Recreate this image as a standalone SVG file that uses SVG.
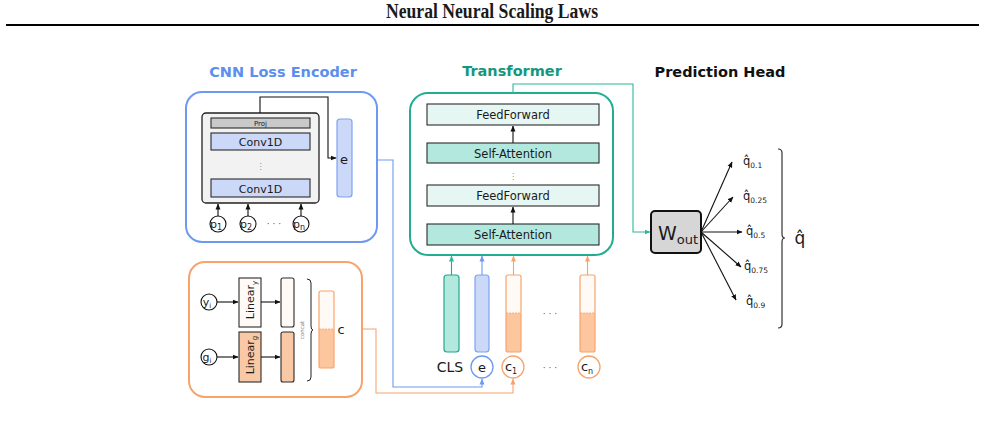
<svg xmlns="http://www.w3.org/2000/svg" width="985" height="426" viewBox="0 0 985 426">
<style>
text{font-family:"DejaVu Sans","Noto Sans",sans-serif;fill:#1a1a1a}
.title{font-weight:bold;font-size:14.5px;text-anchor:middle}
.lbl{font-size:11.5px;text-anchor:middle}
.box{stroke:#2b2b2b;stroke-width:1.1}
.ln{fill:none;stroke:#111;stroke-width:1.1}
.blue{stroke:#6d9af0}
.orange{stroke:#f7a46c}
.teal{stroke:#2bb89d}
.sub{font-size:8px}
</style>
<defs>
<marker id="ab" markerWidth="6" markerHeight="6" refX="5.5" refY="3" orient="auto" markerUnits="userSpaceOnUse"><path d="M0,0.5 L6,3 L0,5.5 z" fill="#111"/></marker>
<marker id="abl" markerWidth="6" markerHeight="6" refX="5.5" refY="3" orient="auto" markerUnits="userSpaceOnUse"><path d="M0,0.5 L6,3 L0,5.5 z" fill="#6d9af0"/></marker>
<marker id="aor" markerWidth="6" markerHeight="6" refX="5.5" refY="3" orient="auto" markerUnits="userSpaceOnUse"><path d="M0,0.5 L6,3 L0,5.5 z" fill="#f7a46c"/></marker>
<marker id="ate" markerWidth="6" markerHeight="6" refX="5.5" refY="3" orient="auto" markerUnits="userSpaceOnUse"><path d="M0,0.5 L6,3 L0,5.5 z" fill="#2bb89d"/></marker>
</defs>
<rect width="985" height="426" fill="#fff"/>

<g id="header">
<text x="492" y="18" font-family="Liberation Serif,serif" font-weight="bold" font-size="20" text-anchor="middle" textLength="212" lengthAdjust="spacingAndGlyphs" style="font-family:'Liberation Serif',serif">Neural Neural Scaling Laws</text>
<line x1="6" y1="25" x2="979" y2="25" stroke="#000" stroke-width="2"/>
</g>

<g id="cnn-encoder">
<text class="title" x="283" y="77" style="fill:#5c8fee">CNN Loss Encoder</text>
<rect x="186" y="92" width="191" height="150" rx="16" fill="#fff" stroke="#6d9af0" stroke-width="2"/>
<rect x="202" y="113" width="117" height="90" rx="4" fill="#f2f2f2" stroke="#222" stroke-width="1.3"/>
<rect class="box" x="211" y="118" width="99" height="10" fill="#c9c9c9" stroke-width="0.8"/>
<text x="260.5" y="126" font-size="7" text-anchor="middle">Proj</text>
<rect class="box" x="211" y="133" width="99" height="17" fill="#cbd8f7"/>
<text x="260.5" y="146" font-size="11" text-anchor="middle">Conv1D</text>
<text x="260.5" y="169" font-size="8" text-anchor="middle" style="fill:#888">⋮</text>
<rect class="box" x="211" y="179" width="99" height="18" fill="#cbd8f7"/>
<text x="260.5" y="192.5" font-size="11" text-anchor="middle">Conv1D</text>
<rect x="337" y="119" width="15" height="78" rx="3" fill="#cbd8f7" stroke="#7da2f2" stroke-width="1.2"/>
<text x="344" y="164" font-size="13" text-anchor="middle">e</text>
<path class="ln" d="M260,113 V97 H328 V158 H336" marker-end="url(#ab)"/>
<circle cx="218" cy="224" r="8" fill="#fff" stroke="#111" stroke-width="1.1"/>
<text x="216" y="228" font-size="11" text-anchor="middle">p<tspan class="sub" dy="2" font-size="7">1</tspan></text>
<circle cx="248" cy="224" r="8" fill="#fff" stroke="#111" stroke-width="1.1"/>
<text x="246" y="228" font-size="11" text-anchor="middle">p<tspan class="sub" dy="2" font-size="7">2</tspan></text>
<circle cx="301" cy="224" r="8" fill="#fff" stroke="#111" stroke-width="1.1"/>
<text x="299" y="228" font-size="11" text-anchor="middle">p<tspan class="sub" dy="2" font-size="7">n</tspan></text>
<text x="274" y="227" font-size="9" text-anchor="middle" style="fill:#555">· · ·</text>
<path class="ln" d="M218,216 V204" marker-end="url(#ab)"/>
<path class="ln" d="M248,216 V204" marker-end="url(#ab)"/>
<path class="ln" d="M301,216 V204" marker-end="url(#ab)"/>
</g>

<g id="context-encoder">
<rect x="189" y="262" width="173" height="135" rx="16" fill="#fff" stroke="#f7a46c" stroke-width="2"/>
<circle cx="209" cy="302" r="8" fill="#fff" stroke="#111" stroke-width="1.1"/>
<text x="207" y="306" font-size="11" text-anchor="middle">y<tspan dy="2" font-size="7">i</tspan></text>
<circle cx="209" cy="357" r="8" fill="#fff" stroke="#111" stroke-width="1.1"/>
<text x="207" y="361" font-size="11" text-anchor="middle">g<tspan dy="2" font-size="7">i</tspan></text>
<path class="ln" d="M217,302 H238" marker-end="url(#ab)"/>
<path class="ln" d="M217,357 H238" marker-end="url(#ab)"/>
<rect class="box" x="239" y="278" width="22" height="49" fill="#fffaf6"/>
<text x="252" y="306" font-size="11" text-anchor="middle" transform="rotate(-90 250 302)">Linear<tspan dy="3" font-size="7">y</tspan></text>
<rect class="box" x="239" y="332" width="22" height="50" fill="#f9c8a4"/>
<text x="252" y="361" font-size="11" text-anchor="middle" transform="rotate(-90 250 357)">Linear<tspan dy="3" font-size="7">g</tspan></text>
<path class="ln" d="M261,302 H280" marker-end="url(#ab)"/>
<path class="ln" d="M261,357 H280" marker-end="url(#ab)"/>
<rect class="box" x="281" y="278" width="13" height="49" rx="2" fill="#fffaf6"/>
<rect class="box" x="281" y="332" width="13" height="50" rx="2" fill="#f9c8a4"/>
<text x="303.5" y="330" font-size="5.5" text-anchor="middle" transform="rotate(-90 303.5 330)" style="fill:#777">concat</text>
<path d="M307,279 Q311,279 311,283 V326 Q311,330 313,330 Q311,330 311,334 V377 Q311,381 307,381" fill="none" stroke="#222" stroke-width="1"/>
<rect x="319" y="291" width="15" height="77" rx="2" fill="#fffaf6"/>
<path d="M319,329 H334 V366 Q334,368 332,368 H321 Q319,368 319,366 Z" fill="#fcc79f"/>
<line x1="319" y1="329" x2="334" y2="329" stroke="#f7a46c" stroke-width="0.8" stroke-dasharray="2,1"/>
<rect x="319" y="291" width="15" height="77" rx="2" fill="none" stroke="#f7a46c" stroke-width="1.2"/>
<text x="341" y="334" font-size="13" text-anchor="middle">c</text>
</g>

<g id="transformer">
<text class="title" x="512" y="76" style="fill:#14977f">Transformer</text>
<rect x="410" y="93" width="203" height="162" rx="18" fill="#fff" stroke="#22ad93" stroke-width="2"/>
<rect class="box" x="427" y="104" width="172" height="21" fill="#e6f7f3"/>
<text class="lbl" x="513" y="119">FeedForward</text>
<rect class="box" x="427" y="143" width="172" height="20" fill="#b3e8df"/>
<text class="lbl" x="513" y="157.5">Self-Attention</text>
<text x="513" y="179" font-size="8" text-anchor="middle" style="fill:#888">⋮</text>
<rect class="box" x="427" y="185" width="172" height="21" fill="#e6f7f3"/>
<text class="lbl" x="513" y="200">FeedForward</text>
<rect class="box" x="427" y="224" width="172" height="21" fill="#b3e8df"/>
<text class="lbl" x="513" y="239">Self-Attention</text>
<path class="ln" d="M513,143 V126" stroke-width="1" marker-end="url(#ab)"/>
<path class="ln" d="M513,224 V207" stroke-width="1" marker-end="url(#ab)"/>
</g>

<g id="tokens">
<rect x="444" y="275" width="15" height="77" rx="3" fill="#b3e8df" stroke="#23a88e" stroke-width="1.2"/>
<rect x="475" y="275" width="14" height="77" rx="3" fill="#cbd8f7" stroke="#7da2f2" stroke-width="1.2"/>
<rect x="506" y="275" width="15" height="77" rx="2" fill="#fffaf6"/>
<path d="M506,313 H521 V350 Q521,352 519,352 H508 Q506,352 506,350 Z" fill="#fcc79f"/>
<line x1="506" y1="313" x2="521" y2="313" stroke="#f7a46c" stroke-width="0.8" stroke-dasharray="2,1"/>
<rect x="506" y="275" width="15" height="77" rx="2" fill="none" stroke="#f7a46c" stroke-width="1.2"/>
<rect x="580" y="275" width="15" height="77" rx="2" fill="#fffaf6"/>
<path d="M580,313 H595 V350 Q595,352 593,352 H582 Q580,352 580,350 Z" fill="#fcc79f"/>
<line x1="580" y1="313" x2="595" y2="313" stroke="#f7a46c" stroke-width="0.8" stroke-dasharray="2,1"/>
<rect x="580" y="275" width="15" height="77" rx="2" fill="none" stroke="#f7a46c" stroke-width="1.2"/>
<text x="550" y="317" font-size="9" text-anchor="middle" style="fill:#555">· · ·</text>
<text x="550" y="371" font-size="9" text-anchor="middle" style="fill:#555">· · ·</text>
<text x="450" y="372" font-size="14" text-anchor="middle">CLS</text>
<circle cx="482" cy="367" r="11" fill="#fff" stroke="#6d9af0" stroke-width="1.3"/>
<text x="482" y="372" font-size="13" text-anchor="middle">e</text>
<circle cx="513" cy="367" r="11" fill="#fff" stroke="#f7a46c" stroke-width="1.3"/>
<text x="511" y="371" font-size="13" text-anchor="middle">c<tspan dy="3" font-size="8">1</tspan></text>
<circle cx="589" cy="367" r="11" fill="#fff" stroke="#f7a46c" stroke-width="1.3"/>
<text x="587" y="371" font-size="13" text-anchor="middle">c<tspan dy="3" font-size="8">n</tspan></text>
</g>

<g id="prediction-head">
<text class="title" x="720" y="77" style="fill:#111">Prediction Head</text>
<rect x="651" y="211" width="50" height="42" rx="4" fill="#d6d6d6" stroke="#111" stroke-width="2"/>
<text x="658" y="240" font-size="19">W<tspan dy="4" font-size="13">out</tspan></text>
<text x="743" y="165" font-size="11.5">q̂<tspan dy="3" font-size="7.5">0.1</tspan></text>
<text x="743" y="200" font-size="11.5">q̂<tspan dy="3" font-size="7.5">0.25</tspan></text>
<text x="746" y="235" font-size="11.5">q̂<tspan dy="3" font-size="7.5">0.5</tspan></text>
<text x="744" y="270" font-size="11.5">q̂<tspan dy="3" font-size="7.5">0.75</tspan></text>
<text x="746" y="305" font-size="11.5">q̂<tspan dy="3" font-size="7.5">0.9</tspan></text>
<path d="M778,149 Q782,149 782,153 V234 Q782,238 785,238 Q782,238 782,242 V324 Q782,328 778,328" fill="none" stroke="#333" stroke-width="1.2"/>
<text x="800" y="244" font-size="17" text-anchor="middle">q̂</text>
</g>

<g id="connectors">
<path d="M377,160 H393 V387 H482 V379" fill="none" stroke="#6d9af0" stroke-width="1.1" marker-end="url(#abl)"/>
<path d="M362,329 H376 V393 H513 V379" fill="none" stroke="#f7a46c" stroke-width="1.1" marker-end="url(#aor)"/>
<path d="M513,93 V84 H633 V232 H650" fill="none" stroke="#2bb89d" stroke-width="1.1" marker-end="url(#ate)"/>
<path d="M451.5,275 V256" stroke="#23a88e" stroke-width="1.1" marker-end="url(#ate)"/>
<path d="M482,275 V256" stroke="#6d9af0" stroke-width="1.1" marker-end="url(#abl)"/>
<path d="M513.5,275 V256" stroke="#f7a46c" stroke-width="1.1" marker-end="url(#aor)"/>
<path d="M587.5,275 V256" stroke="#f7a46c" stroke-width="1.1" marker-end="url(#aor)"/>
<path class="ln" d="M701,232 L732,162" stroke-width="1" marker-end="url(#ab)"/>
<path class="ln" d="M701,232 L733,197" stroke-width="1" marker-end="url(#ab)"/>
<path class="ln" d="M701,232 L742,232" stroke-width="1" marker-end="url(#ab)"/>
<path class="ln" d="M701,232 L741,267" stroke-width="1" marker-end="url(#ab)"/>
<path class="ln" d="M701,232 L736,300" stroke-width="1" marker-end="url(#ab)"/>
</g>
</svg>
